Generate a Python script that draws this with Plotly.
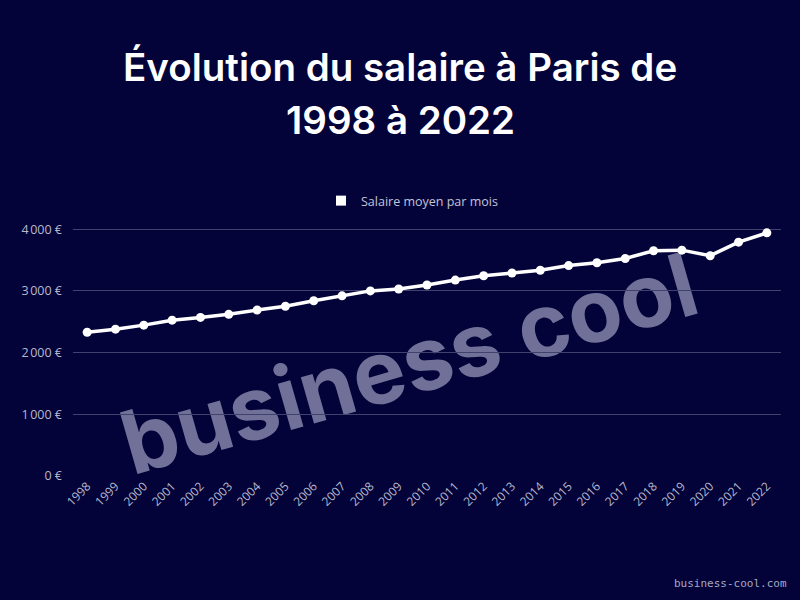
import plotly.graph_objects as go

years = [str(y) for y in range(1998, 2023)]
salaire = [2330, 2380, 2445, 2525, 2570, 2620, 2690, 2750, 2840, 2920,
           3000, 3030, 3095, 3175, 3245, 3290, 3335, 3410, 3455, 3525,
           3650, 3660, 3570, 3790, 3940]
y_ticks = [0, 1000, 2000, 3000, 4000]
y_tick_labels = ["0 €", "1\u202f000 €", "2\u202f000 €", "3\u202f000 €", "4\u202f000 €"]
series_name = "Salaire moyen par mois"
title_lines = ["Évolution du salaire à Paris de", "1998 à 2022"]

bg = "#03033a"
L, R, T, B = 73, 19, 223, 124
PW, PH = 800 - L - R, 600 - T - B


def px_x(x):
    return (x - L) / PW


def px_y(y):
    return (600 - B - y) / PH


fig = go.Figure()
fig.add_trace(go.Scatter(
    x=years, y=salaire, mode="lines+markers", name=series_name,
    line=dict(color="white", width=3.5),
    marker=dict(color="white", size=9, symbol="circle"),
    showlegend=False,
))
fig.add_trace(go.Scatter(
    x=[None], y=[None], mode="markers", name=series_name,
    marker=dict(color="white", size=10, symbol="square"),
    showlegend=True,
))

fig.update_layout(
    width=800, height=600,
    paper_bgcolor=bg, plot_bgcolor=bg,
    margin=dict(l=L, r=R, t=T, b=B),
    font=dict(family="Open Sans", color="#c4c4d6"),
    showlegend=True,
    legend=dict(
        orientation="h", x=px_x(412), xanchor="center", y=px_y(201), yanchor="middle",
        font=dict(size=12.5, color="#c4c4d6"), bgcolor="rgba(0,0,0,0)",
    ),
    xaxis=dict(
        type="category", range=[-0.5, 24.5], showgrid=False, zeroline=False,
        tickangle=-45, tickfont=dict(size=12, color="#b8b8cc"),
        showline=False, ticks="",
    ),
    yaxis=dict(
        range=[0, 4100], tickvals=y_ticks, ticktext=y_tick_labels,
        gridcolor="#41416e", gridwidth=1, zeroline=False,
        tickfont=dict(size=12.5, color="#b8b8cc"), ticks="", ticklabelstandoff=10,
    ),
    hovermode=False,
)

for line, yc in zip(title_lines, [67, 120]):
    fig.add_annotation(
        text=line, xref="paper", yref="paper", x=px_x(400), y=px_y(yc),
        xanchor="center", yanchor="middle", showarrow=False,
        font=dict(family="Inter", size=38.5, color="white", weight=600),
    )

# watermark drawn between grid and data
cx, cy = px_x(408), px_y(360)
fig.add_shape(
    type="rect", xref="paper", yref="paper",
    x0=cx - 0.05, x1=cx + 0.05, y0=cy - 0.05, y1=cy + 0.05,
    line=dict(width=0), fillcolor="rgba(0,0,0,0)", layer="between",
    label=dict(
        text="business cool", textposition="middle center", textangle=-16,
        font=dict(family="Inter", size=88, color="rgb(112,112,152)", weight=700),
    ),
)

fig.add_annotation(
    text="business-cool.com", xref="paper", yref="paper",
    x=px_x(789), y=px_y(583), xanchor="right", yanchor="middle",
    showarrow=False, font=dict(family="DejaVu Sans Mono", size=11, color="#a8a8c0"),
)

fig.write_html(
    "out.html",
    config={"displayModeBar": False},
    post_script="document.body.style.margin='0';document.body.style.background='#03033a';",
)
